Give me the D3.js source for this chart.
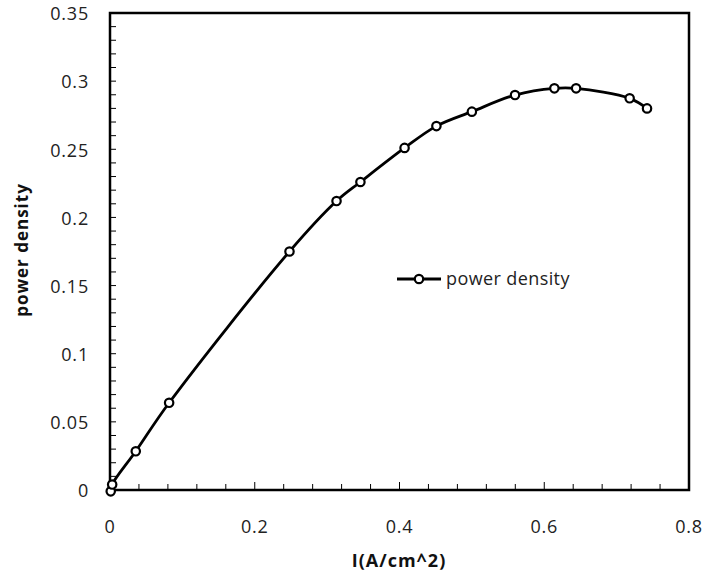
<!DOCTYPE html>
<html><head><meta charset="utf-8">
<script src="https://cdn.jsdelivr.net/npm/d3@7"></script>
<style>body{margin:0;background:#fff}svg{display:block}</style>
</head><body><svg id="c" width="703" height="574"></svg>
<script>
const currentI = [0.001, 0.003, 0.0356, 0.0817, 0.248, 0.313, 0.346, 0.407, 0.451, 0.500, 0.5596, 0.614, 0.644, 0.718, 0.742];
const powerDensity = [-0.001, 0.004, 0.0284, 0.064, 0.175, 0.212, 0.226, 0.251, 0.267, 0.2776, 0.2898, 0.2947, 0.2947, 0.2874, 0.280];
const xTicks = [0, 0.2, 0.4, 0.6, 0.8];
const yTicks = [0, 0.05, 0.1, 0.15, 0.2, 0.25, 0.3, 0.35];
const seriesName = "power density";
const xTitle = "I(A/cm^2)";
const yTitle = "power density";

const svg = d3.select("#c");
const L = 110, R = 689, T = 13, B = 490;
const x = d3.scaleLinear().domain([0, 0.8]).range([L, R]);
const y = d3.scaleLinear().domain([0, 0.35]).range([B, T]);
const font = "'Open Sans', 'Noto Sans', sans-serif";

// frame
svg.append("rect").attr("x", L).attr("y", T).attr("width", R - L).attr("height", B - T)
  .attr("fill", "none").attr("stroke", "#000").attr("stroke-width", 2.5);

// minor ticks inward
const xMinor = d3.range(0, 0.8001, 0.04);
svg.selectAll(".xm").data(xMinor).enter().append("line")
  .attr("x1", d => x(d)).attr("x2", d => x(d))
  .attr("y1", B).attr("y2", d => (Math.abs(d / 0.2 - Math.round(d / 0.2)) < 1e-6) ? B - 8 : B - 6)
  .attr("stroke", "#000").attr("stroke-width", 1);
const yMinor = d3.range(0, 0.3501, 0.01);
svg.selectAll(".ym").data(yMinor).enter().append("line")
  .attr("y1", d => y(d)).attr("y2", d => y(d))
  .attr("x1", L).attr("x2", L + 6)
  .attr("stroke", "#000").attr("stroke-width", 1);

// tick labels
svg.selectAll(".xl").data(xTicks).enter().append("text")
  .attr("x", d => x(d)).attr("y", 527).attr("dy", "0.35em")
  .attr("text-anchor", "middle").attr("font-family", font).attr("font-size", 18).attr("letter-spacing", "0.8").attr("fill", "#222")
  .text(d => d3.format("")(d));
svg.selectAll(".yl").data(yTicks).enter().append("text")
  .attr("x", 89).attr("y", d => y(d) + 1).attr("dy", "0.35em")
  .attr("text-anchor", "end").attr("font-family", font).attr("font-size", 18).attr("letter-spacing", "0.8").attr("fill", "#222")
  .text(d => d3.format("")(d));

// titles
svg.append("text").attr("x", 399).attr("y", 561).attr("dy", "0.35em").attr("text-anchor", "middle")
  .attr("font-family", font).attr("font-weight", "bold").attr("font-size", 18).attr("letter-spacing", "1").attr("fill", "#111").text(xTitle);
svg.append("text").attr("transform", "translate(22,250) rotate(-90)").attr("dy", "0.35em").attr("text-anchor", "middle")
  .attr("font-family", font).attr("font-weight", "bold").attr("font-size", 17).attr("letter-spacing", "1").attr("fill", "#111").text(yTitle);

// series
const pts = currentI.map((v, i) => [v, powerDensity[i]]);
const line = d3.line().x(d => x(d[0])).y(d => y(d[1])).curve(d3.curveCatmullRom.alpha(0.5));
svg.append("path").attr("d", line(pts)).attr("fill", "none").attr("stroke", "#000").attr("stroke-width", 2.8);
svg.selectAll(".pt").data(pts).enter().append("circle")
  .attr("cx", d => x(d[0])).attr("cy", d => y(d[1])).attr("r", 4.2)
  .attr("fill", "#fff").attr("stroke", "#000").attr("stroke-width", 2.2);

// legend
const lg = svg.append("g");
lg.append("line").attr("x1", 397).attr("x2", 441).attr("y1", 279).attr("y2", 279).attr("stroke", "#000").attr("stroke-width", 2.8);
lg.append("circle").attr("cx", 419).attr("cy", 279).attr("r", 4.2).attr("fill", "#fff").attr("stroke", "#000").attr("stroke-width", 2.2);
lg.append("text").attr("x", 446).attr("y", 279).attr("dy", "0.35em").attr("font-family", font).attr("font-size", 18).attr("letter-spacing", "0.4").attr("fill", "#222").text(seriesName);
</script></body></html>
